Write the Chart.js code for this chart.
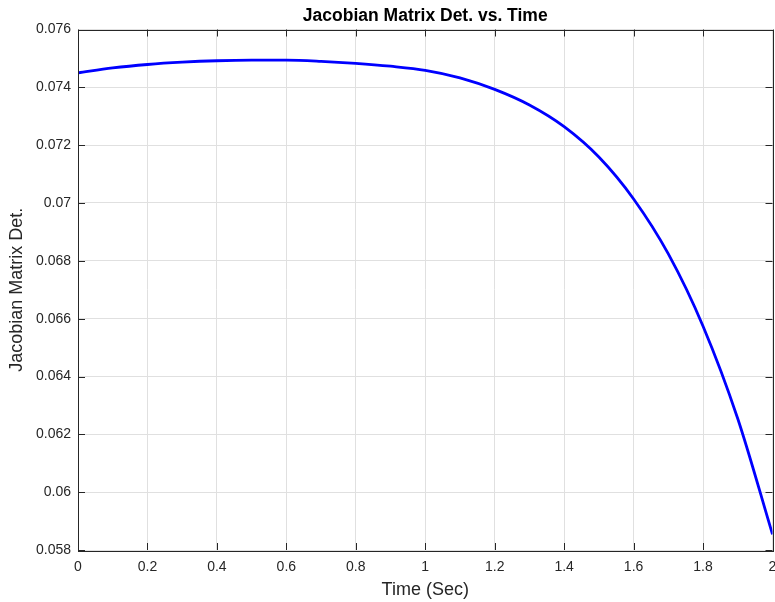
<!DOCTYPE html>
<html>
<head>
<meta charset="utf-8">
<script src="https://cdn.jsdelivr.net/npm/chart.js@4.4.1/dist/chart.umd.min.js"></script>
<style>
  html, body { margin: 0; padding: 0; background: #fff; }
  #wrap { width: 775px; height: 602px; position: relative; }
</style>
</head>
<body>
<div id="wrap"><canvas id="c" width="775" height="602"></canvas></div>
<script>
const timeValues = [0, 0.1, 0.2, 0.3, 0.4, 0.5, 0.6, 0.7, 0.8, 0.9, 1.0, 1.1, 1.2, 1.3, 1.4, 1.5, 1.6, 1.7, 1.8, 1.9, 2.0];
const detValues = [0.07450, 0.07467, 0.07479, 0.07487, 0.07492, 0.07494, 0.07494, 0.07490, 0.07483, 0.07473, 0.07459, 0.07433, 0.07393, 0.07339, 0.07264, 0.07159, 0.07014, 0.06824, 0.06574, 0.06254, 0.05854];
const xTicks = [0, 0.2, 0.4, 0.6, 0.8, 1, 1.2, 1.4, 1.6, 1.8, 2];
const yTicks = [0.058, 0.060, 0.062, 0.064, 0.066, 0.068, 0.070, 0.072, 0.074, 0.076];
const titleText = 'Jacobian Matrix Det. vs. Time';
const xLabel = 'Time (Sec)';
const yLabel = 'Jacobian Matrix Det.';

const axisColor = '#262626';
const gridColor = '#e0e0e0';
const fontFamily = 'Arial, "Liberation Sans", Helvetica, sans-serif';

const points = timeValues.map((t, i) => ({ x: t, y: detValues[i] }));

const boxPlugin = {
  id: 'boxPlugin',
  afterDraw(chart) {
    const ctx = chart.ctx;
    const a = chart.chartArea;
    const xs = chart.scales.x, ys = chart.scales.y;
    ctx.save();
    ctx.strokeStyle = axisColor;
    ctx.lineWidth = 1;
    ctx.strokeRect(Math.round(a.left) + 0.5, Math.round(a.top) + 0.5, Math.round(a.right - a.left), Math.round(a.bottom - a.top));
    const tl = 7;
    ctx.beginPath();
    xTicks.forEach(v => {
      const px = Math.round(xs.getPixelForValue(v)) + 0.5;
      ctx.moveTo(px, a.bottom); ctx.lineTo(px, a.bottom - tl);
      ctx.moveTo(px, a.top); ctx.lineTo(px, a.top + tl);
    });
    yTicks.forEach(v => {
      const py = Math.round(ys.getPixelForValue(v)) + 0.5;
      ctx.moveTo(a.left, py); ctx.lineTo(a.left + tl, py);
      ctx.moveTo(a.right, py); ctx.lineTo(a.right - tl, py);
    });
    ctx.stroke();
    ctx.restore();
  }
};

new Chart(document.getElementById('c'), {
  type: 'line',
  data: {
    datasets: [{
      data: points,
      borderColor: '#0000ff',
      borderWidth: 2.8,
      pointRadius: 0,
      fill: false,
      cubicInterpolationMode: 'monotone'
    }]
  },
  options: {
    responsive: false,
    animation: false,
    events: [],
    layout: { padding: { top: 0, right: 2.5, left: 0, bottom: 0 } },
    plugins: {
      legend: { display: false },
      tooltip: { enabled: false },
      title: {
        display: true,
        text: titleText,
        fullSize: false,
        color: '#000',
        font: { family: fontFamily, size: 17.5, weight: 'bold', lineHeight: 1.2 },
        padding: { top: 6, bottom: 2.5 }
      }
    },
    scales: {
      x: {
        type: 'linear',
        min: 0, max: 2,
        afterBuildTicks(scale) { scale.ticks = xTicks.map(v => ({ value: v })); },
        afterFit(scale) { scale.height = 52; scale.paddingRight = 0; scale.paddingLeft = 0; },
        ticks: {
          color: axisColor,
          font: { family: fontFamily, size: 14 },
          padding: 9,
          maxRotation: 0,
          callback: v => String(Number(v.toFixed(1)))
        },
        grid: { color: gridColor, drawTicks: false, lineWidth: 1 },
        border: { display: false },
        title: {
          display: true,
          text: xLabel,
          color: axisColor,
          font: { family: fontFamily, size: 18, lineHeight: 1.2 },
          padding: { top: 0, bottom: 1.2 }
        }
      },
      y: {
        type: 'linear',
        min: 0.058, max: 0.076,
        afterBuildTicks(scale) { scale.ticks = yTicks.map(v => ({ value: v })); },
        afterFit(scale) { scale.width = 78; scale.paddingTop = 0; scale.paddingBottom = 0; },
        ticks: {
          color: axisColor,
          font: { family: fontFamily, size: 14 },
          padding: 7,
          callback: v => String(Number(v.toFixed(3)))
        },
        grid: { color: gridColor, drawTicks: false, lineWidth: 1 },
        border: { display: false },
        title: {
          display: true,
          text: yLabel,
          color: axisColor,
          font: { family: fontFamily, size: 18, lineHeight: 1.2 },
          padding: { top: 6.7, bottom: 0 }
        }
      }
    }
  },
  plugins: [boxPlugin]
});
</script>
</body>
</html>
